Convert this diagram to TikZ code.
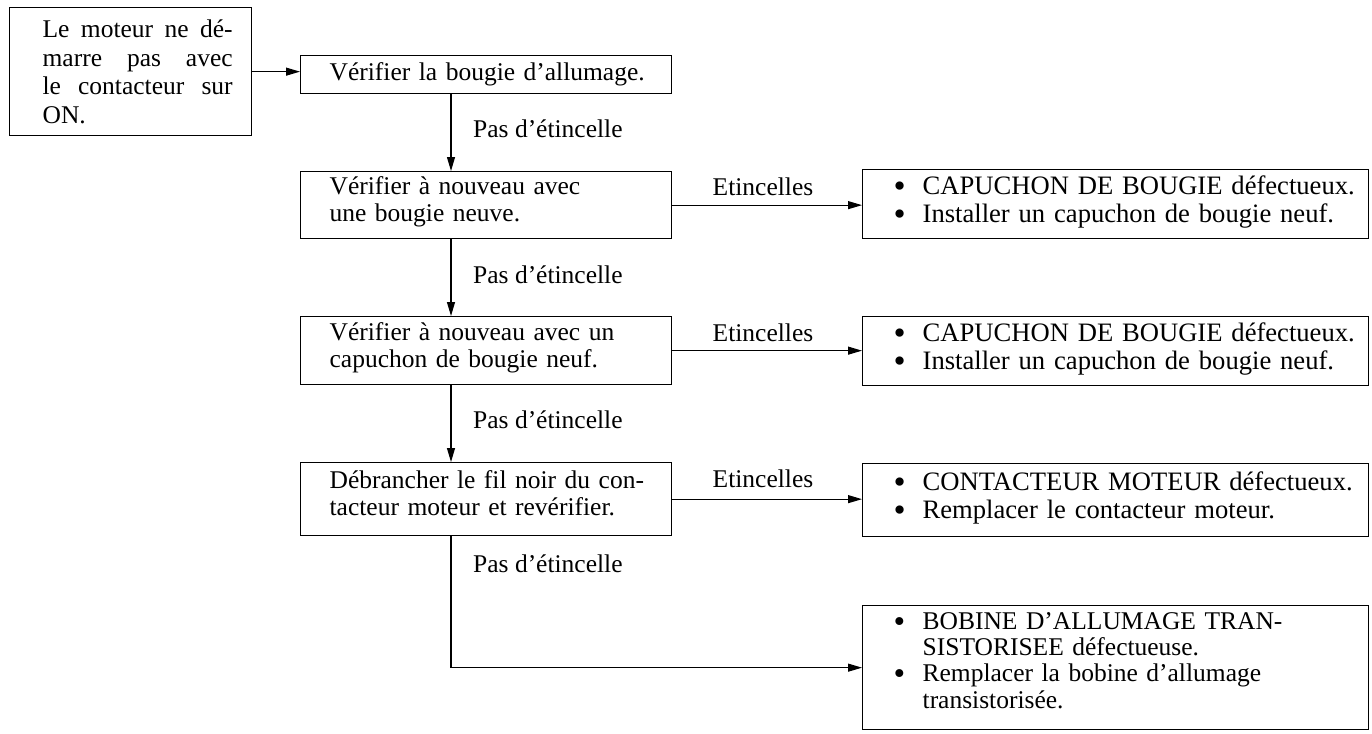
\documentclass[tikz,border=0pt]{standalone}
\usepackage{fontspec}
\setmainfont{Liberation Serif}
\usetikzlibrary{arrows.meta}
% bullet of the result boxes, and a depth strut that lifts a text block
\newcommand{\puce}{\makebox[29pt][l]{\raisebox{-3pt}{\scalebox{1.3}{\textbullet}}}}
\newcommand{\lowpad}[1]{\rule[-#1]{0pt}{#1}}
\begin{document}
\begin{tikzpicture}[x=1pt,y=-1pt,
  txt/.style={font=\fontsize{25.5pt}{27pt}\selectfont},
  box/.style={txt, draw, line width=1.3pt, rectangle, anchor=north west,
    align=left, inner ysep=0pt},
  mid/.style={box, inner xsep=29pt, text width=313pt},
  res/.style={box, inner xsep=31pt, text width=444pt},
  bigres/.style={res, font=\fontsize{26.6pt}{28pt}\selectfont},
  lbl/.style={txt, inner sep=0pt},
  arr/.style={line width=1.1pt, -{Triangle[length=14pt,width=8pt]}}]
\useasboundingbox (0,0) rectangle (1372,733);

% vertical spine of the "Pas d'étincelle" branch
\coordinate (spine) at (451,0);

% start box and first check
\node[box, inner xsep=19pt, text width=204pt, minimum height=128pt,
  font=\fontsize{25.5pt}{28.5pt}\selectfont] (A) at (9,7)
  {\hspace*{14pt}\hbox to 190pt{Le\hfill moteur\hfill ne\hfill dé-}\\
   \hspace*{14pt}\hbox to 190pt{marre\hfill pas\hfill avec}\\
   \hspace*{14pt}\hbox to 190pt{le\hfill contacteur\hfill sur}\\
   \hspace*{14pt}ON.};
\node[mid, minimum height=38pt] (B) at (300,55)
  {\mbox{Vérifier la bougie d’allumage.}};

% successive checks
\node[mid, minimum height=67pt] (C) at (300,171)
  {Vérifier à nouveau avec\\une bougie neuve.\lowpad{12pt}};
\node[mid, minimum height=68pt] (D) at (300,316)
  {Vérifier à nouveau avec un\\capuchon de bougie neuf.\lowpad{12pt}};
\node[mid, minimum height=73pt] (E) at (300,462)
  {\mbox{Débrancher le fil noir du con-}\\
   \mbox{tacteur moteur et revérifier.}\lowpad{12pt}};

% diagnoses
\node[bigres, minimum height=69pt] (R1) at (862,169)
  {\mbox{\puce CAPUCHON DE BOUGIE défectueux.}\\
   \mbox{\puce Installer un capuchon de bougie neuf.}\lowpad{11pt}};
\node[bigres, minimum height=69pt] (R2) at (862,316)
  {\mbox{\puce CAPUCHON DE BOUGIE défectueux.}\\
   \mbox{\puce Installer un capuchon de bougie neuf.}\lowpad{11pt}};
\node[bigres, minimum height=73pt] (R3) at (862,463)
  {\mbox{\puce CONTACTEUR MOTEUR défectueux.}\\
   \mbox{\puce Remplacer le contacteur moteur.}\lowpad{11pt}};
\node[res, minimum height=124pt, font=\fontsize{25.5pt}{26.3pt}\selectfont] (R4) at (862,605)
  {\mbox{\puce BOBINE D’ALLUMAGE TRAN-}\\
   \hspace*{29pt}SISTORISEE défectueuse.\\
   \mbox{\puce Remplacer la bobine d’allumage}\\
   \hspace*{29pt}transistorisée.\lowpad{15pt}};

% branch labels
\node[lbl, anchor=base west] (p1) at (473,137) {Pas d’étincelle};
\node[lbl, anchor=base west] (p2) at (473,283) {Pas d’étincelle};
\node[lbl, anchor=base west] (p3) at (473,428) {Pas d’étincelle};
\node[lbl, anchor=base west] (p4) at (473,572) {Pas d’étincelle};
\node[lbl, anchor=base] (e1) at (763,195) {Etincelles};
\node[lbl, anchor=base] (e2) at (763,341) {Etincelles};
\node[lbl, anchor=base] (e3) at (763,487) {Etincelles};

% connectors
\draw[arr] (A.east) -- (A.east -| B.west);
\draw[arr] (B.south -| spine) -- (C.north -| spine);
\draw[arr] (C.south -| spine) -- (D.north -| spine);
\draw[arr] (D.south -| spine) -- (E.north -| spine);
\draw[arr] (E.south -| spine) |- (R4.west);
\draw[arr] (C.east) -- (C.east -| R1.west);
\draw[arr] (D.east) -- (D.east -| R2.west);
\draw[arr] (E.east) -- (E.east -| R3.west);
\end{tikzpicture}
\end{document}
